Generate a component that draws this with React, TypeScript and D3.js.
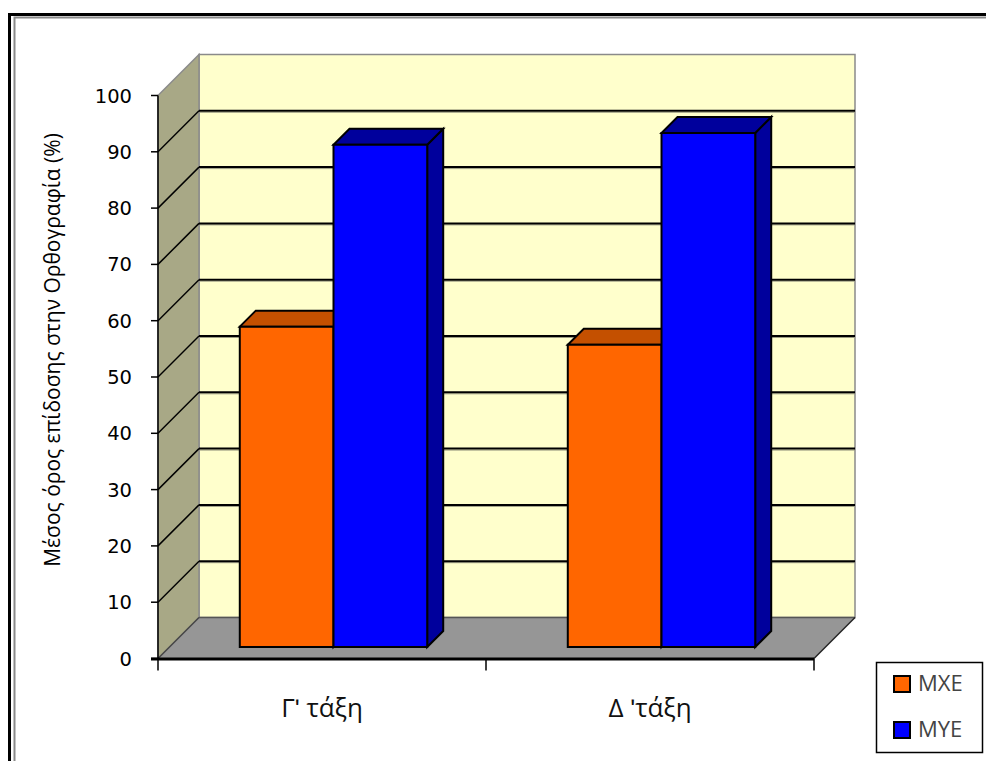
import React from 'react';
import * as d3 from 'd3';

const categories = ['Γʹ τάξη', 'Δ ʹτάξη'];
const seriesNames = ['MXE', 'MYE'];
const mxeValues = [56.9, 53.7];
const myeValues = [89.2, 91.3];
const yTicks = [0, 10, 20, 30, 40, 50, 60, 70, 80, 90, 100];
const yTitle = 'Μέσος όρος επίδοσης στην Ορθογραφία (%)';

const FRONT = { MXE: '#FF6600', MYE: '#0000FF' } as Record<string, string>;
const DARK = { MXE: '#C45000', MYE: '#00009C' } as Record<string, string>;

export default function App() {
  const W = 986, H = 761;
  const x0 = 158, x1 = 814, D = 41;
  const y = d3.scaleLinear().domain([0, 100]).range([658.5, 95.5]);
  const xBand = d3.scaleBand<string>().domain(categories).range([x0, x1]);
  const gapWidth = 1.5;
  const barW = xBand.bandwidth() / (seriesNames.length + gapWidth);
  const xSeries = d3
    .scaleBand<string>()
    .domain(seriesNames)
    .range([(barW * gapWidth) / 2, (barW * gapWidth) / 2 + barW * seriesNames.length]);
  const dF = 11.5, dB = 16;
  const proj = (x: number, v: number, d: number): [number, number] => [x + d, y(v) - d];
  const poly = (pts: [number, number][]) => pts.map((p) => p.join(',')).join(' ');
  const values: Record<string, number[]> = { MXE: mxeValues, MYE: myeValues };

  const bars: JSX.Element[] = [];
  categories.forEach((c, i) => {
    seriesNames.forEach((s) => {
      const v = values[s][i];
      const xl = (xBand(c) as number) + (xSeries(s) as number);
      const xr = xl + barW;
      const side = [proj(xr, 0, dF), proj(xr, 0, dF + dB), proj(xr, v, dF + dB), proj(xr, v, dF)];
      const top = [proj(xl, v, dF), proj(xr, v, dF), proj(xr, v, dF + dB), proj(xl, v, dF + dB)];
      const front = [proj(xl, 0, dF), proj(xr, 0, dF), proj(xr, v, dF), proj(xl, v, dF)];
      bars.push(
        <g key={c + s} stroke="#000" strokeWidth={2} strokeLinejoin="miter">
          <polygon points={poly(side)} fill={DARK[s]} />
          <polygon points={poly(top)} fill={DARK[s]} />
          <polygon points={poly(front)} fill={FRONT[s]} />
        </g>
      );
    });
  });

  const backWall = poly([proj(x0, 0, D), proj(x1, 0, D), proj(x1, 100, D), proj(x0, 100, D)]);
  const leftWall = poly([proj(x0, 0, 0), proj(x0, 0, D), proj(x0, 100, D), proj(x0, 100, 0)]);
  const floor = poly([proj(x0, 0, 0), proj(x1, 0, 0), proj(x1, 0, D), proj(x0, 0, D)]);
  const catTicks = [x0, ...categories.map((c) => (xBand(c) as number) + xBand.bandwidth())];

  return (
    <svg
      width={W}
      height={H}
      style={{ position: 'absolute', left: 0, top: 0, background: '#fff' }}
      fontFamily="'Open Sans', sans-serif"
    >
      <rect x={0} y={0} width={W} height={H} fill="#fff" />
      {/* frame */}
      <rect x={9.5} y={14.5} width={W + 20} height={H + 20} fill="none" stroke="#000" strokeWidth={3} />
      <rect x={14.5} y={17.5} width={W + 20} height={H + 20} fill="none" stroke="#8a8a8a" strokeWidth={2} />

      {/* walls */}
      <polygon points={backWall} fill="#FFFFCC" stroke="#8a8a8a" strokeWidth={1.5} />
      <polygon points={leftWall} fill="#A8A886" stroke="#8a8a8a" strokeWidth={1.5} />
      <polygon points={floor} fill="#969696" />
      <line x1={proj(x0, 0, D)[0]} y1={proj(x0, 0, D)[1]} x2={proj(x1, 0, D)[0]} y2={proj(x1, 0, D)[1]} stroke="#555" strokeWidth={1.5} />
      <line x1={proj(x0, 0, 0)[0]} y1={proj(x0, 0, 0)[1]} x2={proj(x0, 0, D)[0]} y2={proj(x0, 0, D)[1]} stroke="#444" strokeWidth={1.5} />
      <line x1={proj(x1, 0, 0)[0]} y1={proj(x1, 0, 0)[1]} x2={proj(x1, 0, D)[0]} y2={proj(x1, 0, D)[1]} stroke="#222" strokeWidth={1.5} />

      {/* gridlines */}
      {yTicks.filter((t) => t > 0 && t < 100).map((t) => (
        <g key={'g' + t}>
          <line x1={proj(x0, t, D)[0]} y1={proj(x0, t, D)[1] + 1.5} x2={proj(x1, t, D)[0]} y2={proj(x1, t, D)[1] + 1.5} stroke="#9c9c84" strokeWidth={1} />
          <line x1={proj(x0, t, D)[0]} y1={proj(x0, t, D)[1]} x2={proj(x1, t, D)[0]} y2={proj(x1, t, D)[1]} stroke="#000" strokeWidth={2} />
          <line x1={proj(x0, t, 0)[0]} y1={proj(x0, t, 0)[1]} x2={proj(x0, t, D)[0]} y2={proj(x0, t, D)[1]} stroke="#000" strokeWidth={1.5} />
        </g>
      ))}

      {/* bars */}
      {bars}

      {/* value axis */}
      <line x1={x0} y1={y(100)} x2={x0} y2={y(0)} stroke="#000" strokeWidth={1.5} />
      {yTicks.map((t) => (
        <g key={'t' + t}>
          <line x1={x0 - 7} x2={x0} y1={y(t)} y2={y(t)} stroke="#000" strokeWidth={1.5} />
          <text x={132} y={y(t)} dy="0.36em" textAnchor="end" fontSize={19.5} fontFamily="'DejaVu Sans', sans-serif" fill="#000">
            {t}
          </text>
        </g>
      ))}
      <line x1={x0 - 7} x2={x1} y1={y(0) + 0.5} y2={y(0) + 0.5} stroke="#000" strokeWidth={3} />

      {/* category axis */}
      {catTicks.map((cx, i) => (
        <line key={'c' + i} x1={cx} x2={cx} y1={y(0)} y2={y(0) + 12} stroke="#000" strokeWidth={1.5} />
      ))}
      {categories.map((c) => (
        <text key={c} x={(xBand(c) as number) + xBand.bandwidth() / 2} y={716.5} textAnchor="middle" fontSize={26} fill="#111">
          {c}
        </text>
      ))}

      {/* y title */}
      <text transform={`translate(60,350) rotate(-90)`} textAnchor="middle" fontSize={21} fill="#000">
        {yTitle}
      </text>

      {/* legend */}
      <rect x={876.5} y={662.5} width={106} height={90} fill="#fff" stroke="#000" strokeWidth={1.5} />
      {seriesNames.map((s, i) => (
        <g key={'l' + s}>
          <rect x={894} y={676 + i * 46} width={16} height={16} fill={FRONT[s]} stroke="#000" strokeWidth={2} />
          <text x={918} y={691 + i * 46} fontSize={22} fill="#444">
            {s}
          </text>
        </g>
      ))}
    </svg>
  );
}
